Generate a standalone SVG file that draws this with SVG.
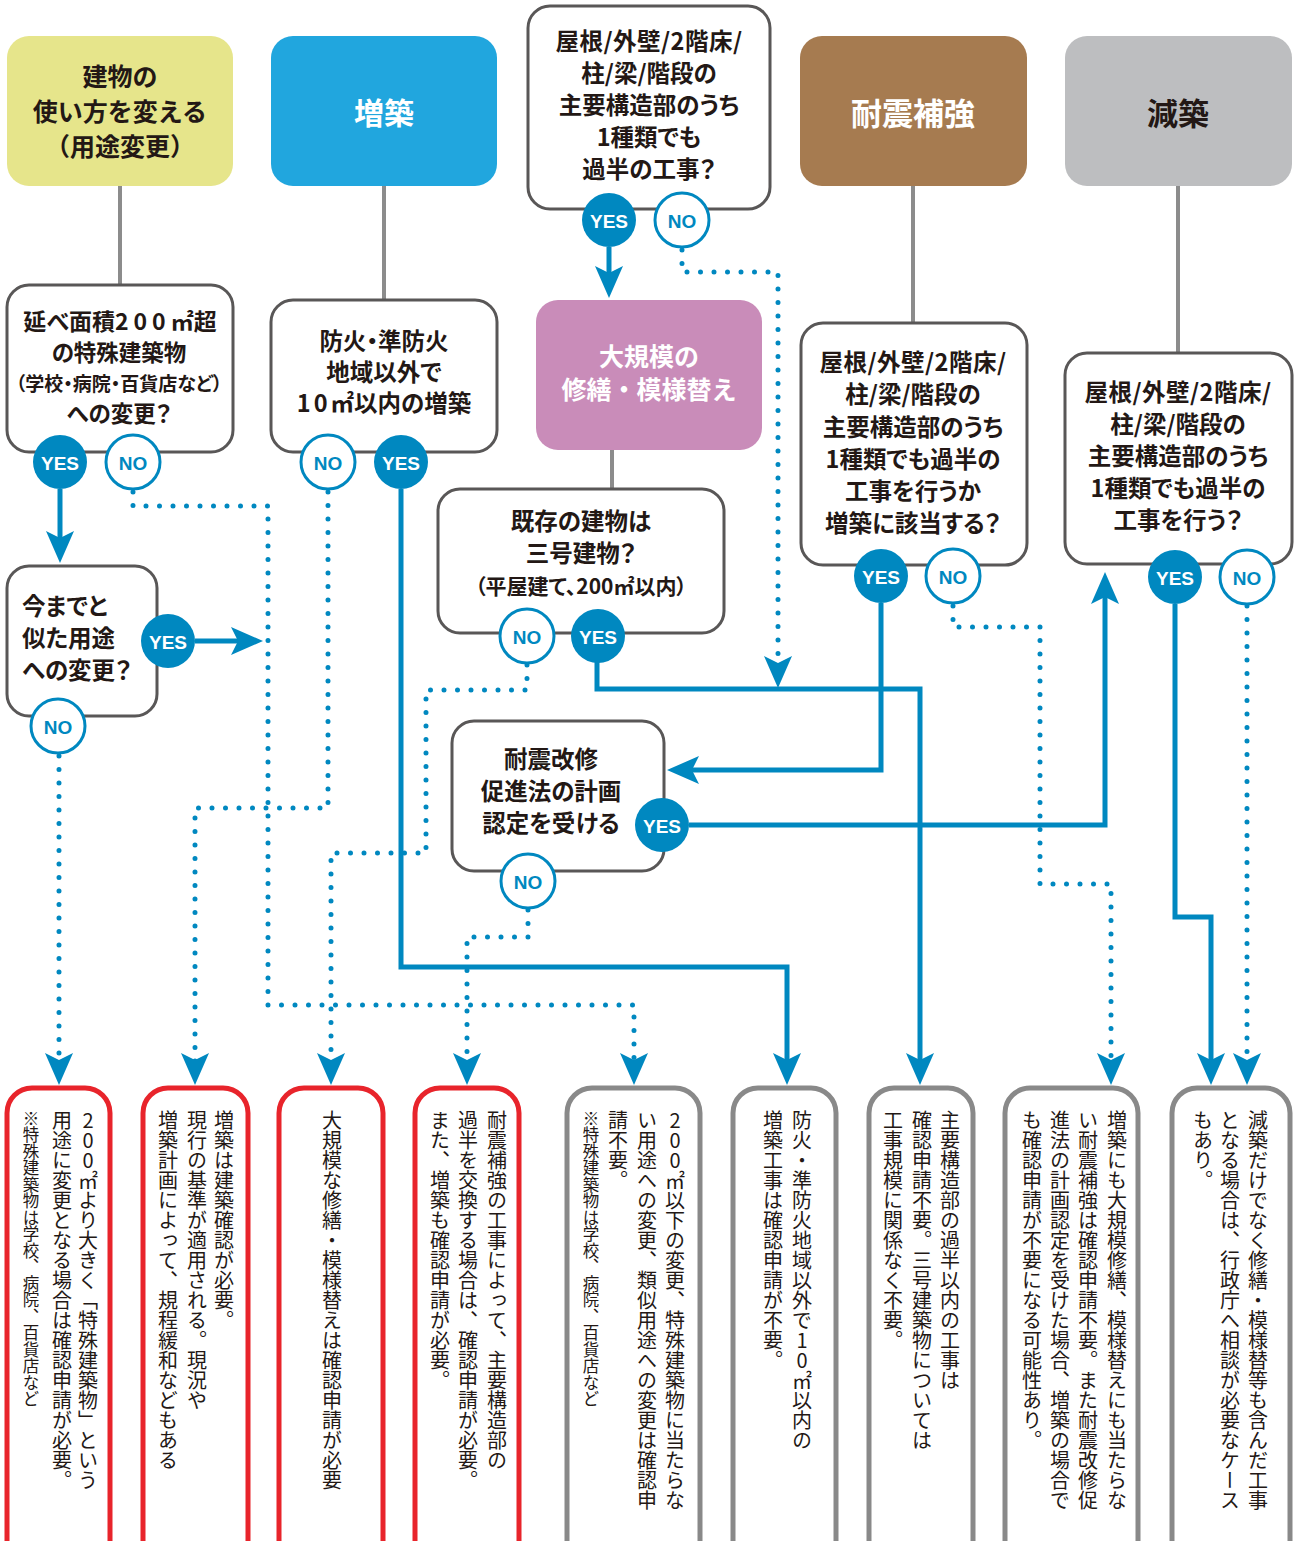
<svg xmlns="http://www.w3.org/2000/svg" width="1300" height="1541" viewBox="0 0 1300 1541">
<defs>
<style>
.ht{font-family:"Noto Sans CJK JP","Noto Sans",sans-serif;font-weight:700;text-anchor:middle;dominant-baseline:central}
.q{fill:#fff;stroke:#595757;stroke-width:3}
.qt{font-family:"Noto Sans CJK JP","Noto Sans",sans-serif;font-weight:700;font-size:23.5px;fill:#231815;text-anchor:middle;dominant-baseline:central;font-feature-settings:"palt"}
.sm{font-size:19px}
.yes circle{fill:#0088c0}
.yes text{fill:#fff}
.no circle{fill:#fff;stroke:#0088c0;stroke-width:3}
.no text{fill:#0088c0}
.yn{font-family:"Liberation Sans",Arial,sans-serif;font-weight:700;font-size:19px;text-anchor:middle;dominant-baseline:central}
.gl{stroke:#8c8c8c;stroke-width:4;fill:none}
.sl{stroke:#0088c0;stroke-width:5;fill:none;marker-end:url(#ah)}
.dl{stroke:#0088c0;stroke-width:5;fill:none;stroke-dasharray:0 13.5;stroke-linecap:round;marker-end:url(#ah)}
.rb{fill:#fff;stroke:#e8242b;stroke-width:5}
.gb{fill:#fff;stroke:#898989;stroke-width:5}
.vt{font-family:"Noto Sans CJK JP",sans-serif;font-size:20px;fill:#231815;writing-mode:vertical-rl;text-orientation:upright}
.vs{font-size:16.5px}
.tcy{text-combine-upright:all}
</style>
<marker id="ah" markerUnits="userSpaceOnUse" markerWidth="32" markerHeight="30" viewBox="0 0 32 30" refX="10" refY="15" orient="auto">
<path d="M32,15 L0,1 L7,15 L0,29 Z" fill="#0088c0"/>
</marker>
</defs>
<rect width="1300" height="1541" fill="#fff"/>

<g id="connectors">
<path class="gl" d="M120,186 V285"/>
<path class="gl" d="M384,186 V300"/>
<path class="gl" d="M913,186 V322"/>
<path class="gl" d="M1178,186 V352"/>
<path class="gl" d="M612,450 V489"/>
<path class="sl" d="M60,489 V541"/>
<path class="sl" d="M195,641 H241"/>
<path class="dl" d="M133,492 V506 H268 V1005 H634 V1063"/>
<path class="dl" d="M328,492 V808 H195 V1063"/>
<path class="sl" d="M401,489 V967 H787 V1063"/>
<path class="sl" d="M609,247 V276"/>
<path class="dl" d="M682,250 V272 H778 V666"/>
<path class="sl" d="M597,662 V689 H920 V1063"/>
<path class="dl" d="M527,665 V690 H426 V853 H331 V1063"/>
<path class="sl" d="M881,603 V770 H689"/>
<path class="sl" d="M689,825 H1105 V594"/>
<path class="dl" d="M528,910 V937 H467 V1063"/>
<path class="dl" d="M953,606 V627 H1040 V884 H1111 V1063"/>
<path class="sl" d="M1175,604 V917 H1211 V1063"/>
<path class="dl" d="M1247,606 V1063"/>
<path class="dl" d="M59,756 V1063"/>
</g>

<g id="h-youto">
<rect x="7" y="36" width="226" height="150" rx="22" fill="#e6e58b"/>
<text class="ht" x="120" y="75" font-size="25" fill="#231815">建物の</text>
<text class="ht" x="120" y="110" font-size="25" fill="#231815">使い方を変える</text>
<text class="ht" x="120" y="145" font-size="25" fill="#231815">（用途変更）</text>
</g>
<g id="h-zouchiku">
<rect x="271" y="36" width="226" height="150" rx="22" fill="#21a6de"/>
<text class="ht" x="384" y="111" font-size="30" fill="#fff">増築</text>
</g>
<g id="h-taishin">
<rect x="800" y="36" width="227" height="150" rx="22" fill="#a67b50"/>
<text class="ht" x="913" y="111" font-size="31" fill="#fff">耐震補強</text>
</g>
<g id="h-genchiku">
<rect x="1065" y="36" width="227" height="150" rx="22" fill="#bdbec0"/>
<text class="ht" x="1178" y="111" font-size="31" fill="#231815">減築</text>
</g>

<g id="q-top">
<rect class="q" x="528" y="6" width="242" height="203" rx="22"/>
<text class="qt" x="649" y="40" letter-spacing="0.5">屋根/外壁/2階床/</text>
<text class="qt" x="649" y="72">柱/梁/階段の</text>
<text class="qt" x="649" y="104">主要構造部のうち</text>
<text class="qt" x="649" y="136">1種類でも</text>
<text class="qt" x="649" y="168">過半の工事？</text>
<g class="yes"><circle cx="609" cy="220" r="27"/><text class="yn" x="609" y="221">YES</text></g>
<g class="no"><circle cx="682" cy="220" r="27"/><text class="yn" x="682" y="221">NO</text></g>
</g>

<g id="q-nobe">
<rect class="q" x="7" y="285" width="226" height="167" rx="22"/>
<text class="qt" x="120" y="320" style="font-size:23px">延べ面積<tspan letter-spacing="5">200</tspan>㎡超</text>
<text class="qt" x="119" y="351" style="font-size:22.5px">の特殊建築物</text>
<text class="qt sm" x="119" y="382">（学校・病院・百貨店など）</text>
<text class="qt" x="119" y="412" style="font-size:22.5px">への変更？</text>
<g class="yes"><circle cx="60" cy="462" r="27"/><text class="yn" x="60" y="463">YES</text></g>
<g class="no"><circle cx="133" cy="462" r="27"/><text class="yn" x="133" y="463">NO</text></g>
</g>

<g id="q-bouka">
<rect class="q" x="271" y="300" width="226" height="152" rx="22"/>
<text class="qt" x="384" y="340">防火・準防火</text>
<text class="qt" x="384" y="371">地域以外で</text>
<text class="qt" x="384" y="402"><tspan letter-spacing="3">10</tspan>㎡以内の増築</text>
<g class="no"><circle cx="328" cy="462" r="27"/><text class="yn" x="328" y="463">NO</text></g>
<g class="yes"><circle cx="401" cy="462" r="27"/><text class="yn" x="401" y="463">YES</text></g>
</g>

<g id="n-daikibo">
<rect x="536" y="300" width="226" height="150" rx="22" fill="#c98cb9"/>
<text class="ht" x="649" y="355" font-size="25" fill="#fff">大規模の</text>
<text class="ht" x="649" y="388" font-size="25" fill="#fff">修繕・模様替え</text>
</g>

<g id="q-kizon">
<rect class="q" x="438" y="489" width="286" height="144" rx="22"/>
<text class="qt" x="581" y="520">既存の建物は</text>
<text class="qt" x="581" y="552">三号建物？</text>
<text class="qt" x="581" y="585" style="font-size:21px">（平屋建て、200㎡以内）</text>
<g class="no"><circle cx="527" cy="636" r="27"/><text class="yn" x="527" y="637">NO</text></g>
<g class="yes"><circle cx="598" cy="636" r="27"/><text class="yn" x="598" y="637">YES</text></g>
</g>

<g id="q-taishin">
<rect class="q" x="801" y="323" width="226" height="242" rx="22"/>
<text class="qt" x="913" y="361" letter-spacing="0.5">屋根/外壁/2階床/</text>
<text class="qt" x="913" y="393">柱/梁/階段の</text>
<text class="qt" x="913" y="426">主要構造部のうち</text>
<text class="qt" x="913" y="458">1種類でも過半の</text>
<text class="qt" x="913" y="490">工事を行うか</text>
<text class="qt" x="913" y="522">増築に該当する？</text>
<g class="yes"><circle cx="881" cy="576" r="27"/><text class="yn" x="881" y="577">YES</text></g>
<g class="no"><circle cx="953" cy="576" r="27"/><text class="yn" x="953" y="577">NO</text></g>
</g>

<g id="q-genchiku">
<rect class="q" x="1065" y="353" width="227" height="211" rx="22"/>
<text class="qt" x="1178" y="391" letter-spacing="0.5">屋根/外壁/2階床/</text>
<text class="qt" x="1178" y="423">柱/梁/階段の</text>
<text class="qt" x="1178" y="455">主要構造部のうち</text>
<text class="qt" x="1178" y="487">1種類でも過半の</text>
<text class="qt" x="1178" y="519">工事を行う？</text>
<g class="yes"><circle cx="1175" cy="577" r="27"/><text class="yn" x="1175" y="578">YES</text></g>
<g class="no"><circle cx="1247" cy="577" r="27"/><text class="yn" x="1247" y="578">NO</text></g>
</g>

<g id="q-ruiji">
<rect class="q" x="7" y="566" width="150" height="150" rx="22"/>
<text class="qt" x="22" y="605" style="text-anchor:start">今までと</text>
<text class="qt" x="22" y="637" style="text-anchor:start">似た用途</text>
<text class="qt" x="22" y="669" style="text-anchor:start">への変更？</text>
<g class="yes"><circle cx="168" cy="641" r="27"/><text class="yn" x="168" y="642">YES</text></g>
<g class="no"><circle cx="58" cy="726" r="27"/><text class="yn" x="58" y="727">NO</text></g>
</g>

<g id="q-kaishu">
<rect class="q" x="452" y="721" width="212" height="150" rx="22"/>
<text class="qt" x="551" y="758">耐震改修</text>
<text class="qt" x="551" y="790">促進法の計画</text>
<text class="qt" x="551" y="822">認定を受ける</text>
<g class="yes"><circle cx="662" cy="825" r="27"/><text class="yn" x="662" y="826">YES</text></g>
<g class="no"><circle cx="528" cy="881" r="27"/><text class="yn" x="528" y="882">NO</text></g>
</g>

<g id="r1">
<rect class="rb" x="7" y="1088" width="103" height="480" rx="25"/>
<text class="vt" x="88" y="1110">200㎡より大きく「特殊建築物」という</text>
<text class="vt" x="62" y="1110">用途に変更となる場合は確認申請が必要。</text>
<text class="vt vs" x="31" y="1110">※特殊建築物は学校、病院、百貨店など</text>
</g>
<g id="r2">
<rect class="rb" x="143" y="1088" width="105" height="480" rx="25"/>
<text class="vt" x="224" y="1110">増築は建築確認が必要。</text>
<text class="vt" x="197" y="1110">現行の基準が適用される。現況や</text>
<text class="vt" x="168" y="1110">増築計画によって、規程緩和などもある</text>
</g>
<g id="r3">
<rect class="rb" x="279" y="1088" width="104" height="480" rx="25"/>
<text class="vt" x="332" y="1110">大規模な修繕・模様替えは確認申請が必要</text>
</g>
<g id="r4">
<rect class="rb" x="415" y="1088" width="104" height="480" rx="25"/>
<text class="vt" x="497" y="1110">耐震補強の工事によって、主要構造部の</text>
<text class="vt" x="468" y="1110">過半を交換する場合は、確認申請が必要。</text>
<text class="vt" x="440" y="1110">また、増築も確認申請が必要。</text>
</g>
<g id="r5">
<rect class="gb" x="567" y="1088" width="133" height="480" rx="25"/>
<text class="vt" x="675" y="1110">200㎡以下の変更、特殊建築物に当たらな</text>
<text class="vt" x="647" y="1110">い用途への変更、類似用途への変更は確認申</text>
<text class="vt" x="618" y="1110">請不要。</text>
<text class="vt vs" x="591" y="1110">※特殊建築物は学校、病院、百貨店など</text>
</g>
<g id="r6">
<rect class="gb" x="733" y="1088" width="103" height="480" rx="25"/>
<text class="vt" x="802" y="1110">防火・準防火地域以外で<tspan class="tcy">10</tspan>㎡以内の</text>
<text class="vt" x="773" y="1110">増築工事は確認申請が不要。</text>
</g>
<g id="r7">
<rect class="gb" x="869" y="1088" width="104" height="480" rx="25"/>
<text class="vt" x="950" y="1110">主要構造部の過半以内の工事は</text>
<text class="vt" x="922" y="1110">確認申請不要。三号建築物については</text>
<text class="vt" x="893" y="1110">工事規模に関係なく不要。</text>
</g>
<g id="r8">
<rect class="gb" x="1005" y="1088" width="133" height="480" rx="25"/>
<text class="vt" x="1117" y="1110">増築にも大規模修繕、模様替えにも当たらな</text>
<text class="vt" x="1088" y="1110">い耐震補強は確認申請不要。また耐震改修促</text>
<text class="vt" x="1060" y="1110">進法の計画認定を受けた場合、増築の場合で</text>
<text class="vt" x="1032" y="1110">も確認申請が不要になる可能性あり。</text>
</g>
<g id="r9">
<rect class="gb" x="1172" y="1088" width="118" height="480" rx="25"/>
<text class="vt" x="1258" y="1110">減築だけでなく修繕・模様替等も含んだ工事</text>
<text class="vt" x="1230" y="1110">となる場合は、行政庁へ相談が必要なケース</text>
<text class="vt" x="1203" y="1110">もあり。</text>
</g>
</svg>
